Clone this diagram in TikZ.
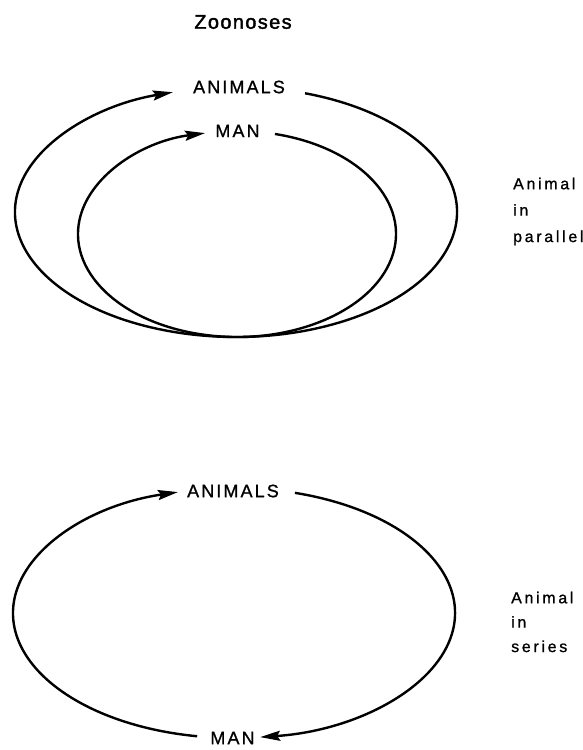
\documentclass[tikz,border=0pt]{standalone}
\usepackage{fontspec}
\setmainfont{Liberation Sans}
\usetikzlibrary{arrows.meta}
\begin{document}
\begin{tikzpicture}[x=1bp,y=1bp,
  cycleline/.style={line width=2.4bp, -{Stealth[length=20bp,width=10bp,inset=3bp]}},
  lbl/.style={inner sep=0pt, font=\fontsize{18}{20}\selectfont\addfontfeatures{LetterSpace=12,FakeBold=1}},
  sidetop/.style={inner sep=0pt, anchor=north west, align=left, font=\fontsize{16}{26.5}\selectfont\addfontfeatures{LetterSpace=17,FakeBold=1}},
  sidebot/.style={inner sep=0pt, anchor=north west, align=left, font=\fontsize{16}{24.5}\selectfont\addfontfeatures{LetterSpace=17,FakeBold=1}},
  ttl/.style={inner sep=0pt, font=\fontsize{20}{22}\selectfont\addfontfeatures{LetterSpace=7,FakeBold=2}}]
\useasboundingbox (0,0) rectangle (583,750);
\fill[white] (0,0) rectangle (583,750);

\node[ttl] (title) at (243,728) {Zoonoses};

% animals in parallel
\coordinate (Co) at (236,538);
\coordinate (Ci) at (237,516);
\node[lbl] (A1) at (239,663) {ANIMALS};
\node[lbl] (M1) at (237.5,619) {MAN};
\draw[cycleline] (Co) ++(71.8:221 and 125) coordinate (o1)
  arc[start angle=71.8, end angle=-253.4, x radius=221, y radius=125];
\draw[cycleline] (Ci) ++(76.2:159 and 103) coordinate (i1)
  arc[start angle=76.2, end angle=-258.4, x radius=159, y radius=103];
\node[sidetop] (P) at (513,572.5) {Animal\\in\\parallel};

% animals in series
\coordinate (Cb) at (234,137);
\node[lbl] (A2) at (233,259) {ANIMALS};
\node[lbl] (M2) at (232.5,12) {MAN};
\draw[cycleline] (Cb) ++(74:221 and 125) coordinate (b1)
  arc[start angle=74, end angle=-83.2, x radius=221, y radius=125];
\draw[cycleline] (Cb) ++(-99.6:221 and 125) coordinate (b2)
  arc[start angle=-99.6, end angle=-255.3, x radius=221, y radius=125];
\node[sidebot] (S) at (511,158.5) {Animal\\in\\series};
\end{tikzpicture}
\end{document}
